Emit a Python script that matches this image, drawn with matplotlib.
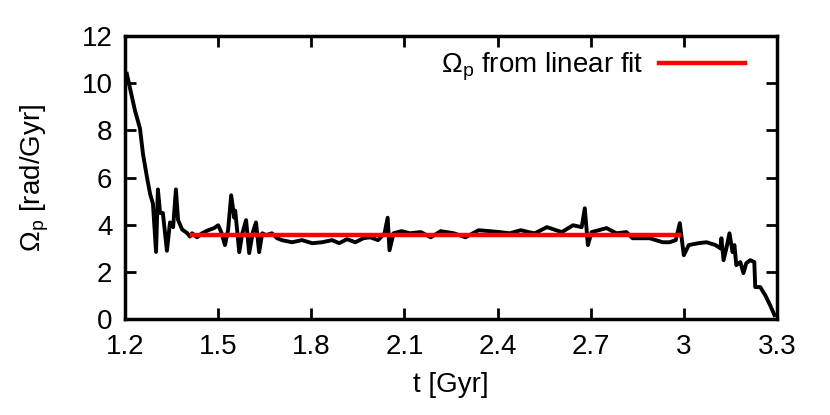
import matplotlib
matplotlib.use('Agg')
from matplotlib import pyplot as plt
from matplotlib.ticker import MultipleLocator

plt.rcParams['font.family'] = ['Liberation Sans', 'DejaVu Sans']
plt.rcParams['mathtext.fontset'] = 'custom'
plt.rcParams['mathtext.rm'] = 'Liberation Sans'
plt.rcParams['mathtext.it'] = 'Liberation Sans'

# pattern speed vs time
t = [1.206, 1.216, 1.232, 1.248, 1.258, 1.271, 1.281, 1.290, 1.300, 1.306,
     1.313, 1.322, 1.335, 1.345, 1.355, 1.364, 1.371, 1.384, 1.400, 1.409,
     1.416, 1.432, 1.448, 1.468, 1.487, 1.500, 1.510, 1.522, 1.532, 1.542,
     1.552, 1.555, 1.568, 1.578, 1.590, 1.600, 1.612, 1.622, 1.632, 1.642,
     1.655, 1.673, 1.690, 1.705, 1.738, 1.770, 1.803, 1.835, 1.867, 1.890,
     1.915, 1.942, 1.968, 1.990, 2.015, 2.036, 2.046, 2.052, 2.065, 2.091,
     2.117, 2.153, 2.185, 2.217, 2.259, 2.297, 2.339, 2.375, 2.407, 2.439,
     2.475, 2.500, 2.520, 2.559, 2.607, 2.643, 2.671, 2.681, 2.691, 2.703,
     2.751, 2.783, 2.815, 2.835, 2.867, 2.890, 2.932, 2.954, 2.974, 2.987,
     3.000, 3.016, 3.047, 3.073, 3.102, 3.118, 3.121, 3.128, 3.137, 3.147,
     3.157, 3.163, 3.169, 3.182, 3.192, 3.201, 3.214, 3.227, 3.230, 3.246,
     3.262, 3.278, 3.292]
omega = [10.4, 9.8, 8.85, 8.1, 7.0, 6.0, 5.3, 4.9, 2.85, 5.5,
         4.5, 4.5, 2.9, 4.1, 3.9, 5.5, 4.2, 3.8, 3.65, 3.5,
         3.64, 3.47, 3.64, 3.77, 3.86, 3.98, 3.69, 3.14, 3.77, 5.25,
         4.3, 4.6, 2.84, 3.64, 4.2, 2.8, 3.7, 4.1, 2.84, 3.64,
         3.56, 3.64, 3.43, 3.35, 3.26, 3.35, 3.22, 3.26, 3.35, 3.22,
         3.39, 3.26, 3.43, 3.47, 3.35, 3.64, 4.3, 2.92, 3.64, 3.73,
         3.64, 3.69, 3.47, 3.73, 3.64, 3.47, 3.77, 3.73, 3.69, 3.64,
         3.77, 3.69, 3.64, 3.90, 3.69, 3.98, 3.90, 4.7, 3.14, 3.69,
         3.86, 3.64, 3.69, 3.43, 3.43, 3.43, 3.26, 3.26, 3.35, 4.07,
         2.71, 3.14, 3.22, 3.26, 3.14, 3.00, 3.43, 2.5, 3.00, 3.64,
         2.84, 3.14, 2.29, 2.42, 1.95, 2.37, 2.5, 2.42, 1.36, 1.36,
         1.02, 0.59, 0.17]

fit_t = [1.416, 2.984]
fit_omega = [3.57, 3.57]

fig = plt.figure(figsize=(8.3, 4.15), dpi=100)
ax = fig.add_axes([0.1506, 0.231, 0.7855, 0.682])

ax.plot(t, omega, color='black', lw=2.8, solid_joinstyle='round')
ax.plot(fit_t, fit_omega, color='#ff0000', lw=3.2, label=r'$\Omega_\mathrm{p}$ from linear fit')

ax.set_xlim(1.2, 3.3)
ax.set_ylim(0, 12)
ax.yaxis.set_major_locator(MultipleLocator(2))
ax.set_xticks([1.2, 1.5, 1.8, 2.1, 2.4, 2.7, 3.0, 3.3])
ax.set_xticklabels(['1.2', '1.5', '1.8', '2.1', '2.4', '2.7', '3', '3.3'])
ax.tick_params(direction='in', length=8, width=2, top=True, right=True,
               labelsize=20)
ax.tick_params(axis='x', pad=11)
ax.tick_params(axis='y', pad=9)
for s in ax.spines.values():
    s.set_linewidth(2.5)

ax.set_xlabel('t [Gyr]', fontsize=20, labelpad=8)
ax.set_ylabel(r'$\Omega_\mathrm{p}$ [rad/Gyr]', fontsize=20, labelpad=22)

ax.legend(loc='upper right', bbox_to_anchor=(0.951, 0.947), frameon=False,
          markerfirst=False, fontsize=20, handlelength=3.1,
          handletextpad=0.55, borderpad=0.0, borderaxespad=0.0)

fig.savefig('out.png', dpi=100)
